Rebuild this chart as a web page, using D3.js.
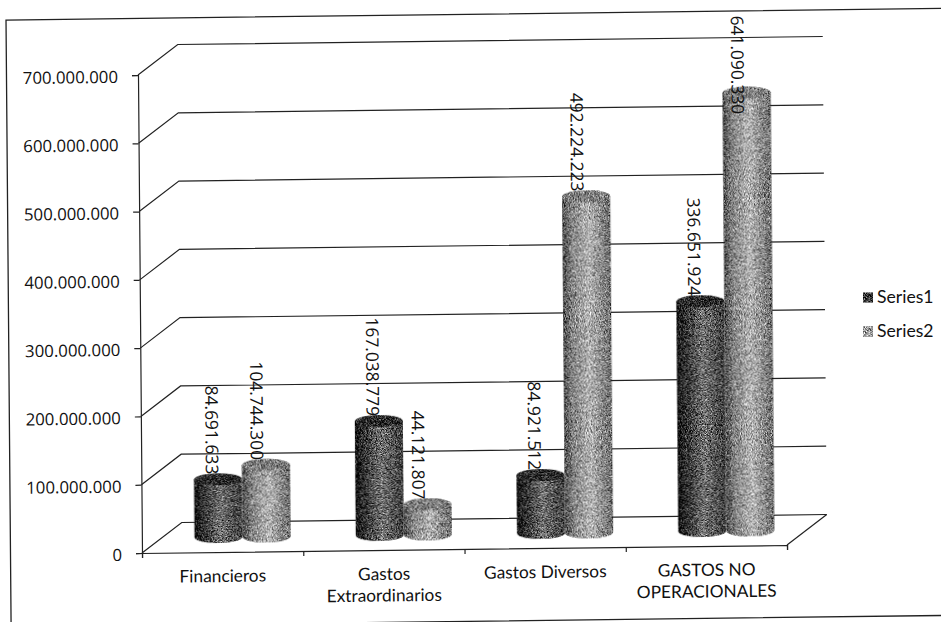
<!DOCTYPE html>
<html>
<head>
<meta charset="utf-8">
<script src="https://cdn.jsdelivr.net/npm/d3@7"></script>
<style>
  html, body { margin: 0; background: #fff; }
  svg { display: block; }
  .tick-label { font-family: "Open Sans"; font-size: 16.8px; fill: #111; }
  .data-label { font-family: "Open Sans"; font-size: 17.4px; fill: #111; }
  .cat-label { font-family: Lato; font-size: 17.3px; fill: #111; }
  .legend-label { font-family: Lato; font-size: 17.6px; fill: #111; }
</style>
</head>
<body>
<div id="graph"></div>
<script>
var categories = ["Financieros", "Gastos Extraordinarios", "Gastos Diversos", "GASTOS NO OPERACIONALES"];
var categoryLines = [["Financieros"], ["Gastos", "Extraordinarios"], ["Gastos Diversos"], ["GASTOS NO", "OPERACIONALES"]];
var series1 = [84691633, 167038779, 84921512, 336651924];
var series2 = [104744300, 44121807, 492224223, 641090330];
var seriesNames = ["Series1", "Series2"];
var yTicks = [0, 100000000, 200000000, 300000000, 400000000, 500000000, 600000000, 700000000];

var width = 941, height = 622;
var depthX = 40, depthY = 30;   // offset of the back wall
var colWidth = 48, capRy = 6;

var svg = d3.select("#graph").append("svg").attr("width", width).attr("height", height);

// gradients and the scanned stipple
var defs = svg.append("defs");
var stops = [
  [[0, "#0a0a0a"], [0.14, "#262626"], [0.55, "#727272"], [1, "#3a3a3a"]],
  [[0, "#4a4a4a"], [0.18, "#828282"], [0.55, "#b4b4b4"], [1, "#6a6a6a"]]
];
stops.forEach(function(s, i) {
  defs.append("linearGradient").attr("id", "body" + i)
    .selectAll("stop").data(s).join("stop")
    .attr("offset", function(d) { return d[0]; })
    .attr("stop-color", function(d) { return d[1]; });
});
var filter = defs.append("filter").attr("id", "stipple")
  .attr("x", 0).attr("y", 0).attr("width", 1).attr("height", 1)
  .attr("color-interpolation-filters", "sRGB");
filter.append("feTurbulence").attr("type", "fractalNoise")
  .attr("baseFrequency", 1.2).attr("numOctaves", 1).attr("seed", 4).attr("result", "noise");
filter.append("feColorMatrix").attr("in", "noise").attr("type", "matrix")
  .attr("values", "1 0 0 0 0  1 0 0 0 0  1 0 0 0 0  0 0 0 0 1").attr("result", "gray");
filter.append("feComposite").attr("in", "SourceGraphic").attr("in2", "gray")
  .attr("operator", "arithmetic")
  .attr("k1", 0).attr("k2", 1).attr("k3", 1.7).attr("k4", -0.85).attr("result", "mix");
filter.append("feComposite").attr("in", "mix").attr("in2", "SourceAlpha").attr("operator", "in");

// the page was scanned slightly crooked
var g = svg.append("g")
  .attr("transform", "translate(142,553) matrix(1,-0.0124,0.0084,1,0,0) translate(-142,-553)");

g.append("rect")
  .attr("x", 10.5).attr("y", 18.4).attr("width", 950).attr("height", 607)
  .attr("fill", "none").attr("stroke", "#222").attr("stroke-width", 1.3);

var x = d3.scaleBand().domain(categories).range([142, 787]);
var xEdges = d3.scaleLinear().domain([0, 4]).range([142, 787]);
var y = d3.scaleLinear().domain([0, 700000000]).range([553, 75]);
var dots = d3.formatLocale({ decimal: ",", thousands: ".", grouping: [3], currency: ["", ""] }).format(",d");

// gridlines over the side wall and back wall
g.append("g").selectAll("path").data(yTicks).join("path")
  .attr("fill", "none").attr("stroke", "#222").attr("stroke-width", 1.2)
  .attr("d", function(d) {
    var p = d3.path();
    p.moveTo(142, y(d));
    p.lineTo(142 + depthX, y(d) - depthY);
    p.lineTo(787 + depthX, y(d) - depthY);
    return p.toString();
  });

// floor edge on the right
g.append("line")
  .attr("x1", 787).attr("y1", y(0)).attr("x2", 787 + depthX).attr("y2", y(0) - depthY)
  .attr("stroke", "#222").attr("stroke-width", 1.2);

var yAxis = g.append("g").attr("transform", "translate(142,0)")
  .call(d3.axisLeft(y).tickValues(yTicks).tickSize(6).tickPadding(14).tickFormat(dots));
yAxis.selectAll("text").attr("class", "tick-label").attr("dy", "0.42em");
yAxis.selectAll("line, path").attr("stroke", "#222").attr("stroke-width", 1.2);

var xAxis = g.append("g").attr("transform", "translate(0,553)")
  .call(d3.axisBottom(xEdges).tickValues([0, 1, 2, 3, 4]).tickSize(5).tickFormat(""));
xAxis.selectAll("line, path").attr("stroke", "#222").attr("stroke-width", 1.2);

// category labels
g.append("g").selectAll("text").data(categories).join("text")
  .attr("class", "cat-label")
  .attr("text-anchor", "middle")
  .attr("y", 583)
  .attr("transform", function(d) { return "translate(" + (x(d) + x.bandwidth() / 2) + ",0)"; })
  .selectAll("tspan").data(function(d, i) { return categoryLines[i]; }).join("tspan")
  .attr("x", 0)
  .attr("dy", function(d, i) { return i ? 21.5 : 0; })
  .text(function(d) { return d; });

// columns, left series first so the second overlaps it
var points = [];
categories.forEach(function(c, i) {
  points.push({ cat: c, s: 0, v: series1[i] });
  points.push({ cat: c, s: 1, v: series2[i] });
});
function cx(d) { return x(d.cat) + x.bandwidth() / 2 + depthX / 2 + (d.s ? colWidth / 2 : -colWidth / 2); }
function floorY() { return y(0) - depthY / 2; }
function topY(d) { return y(d.v) - depthY / 2; }

var cols = g.append("g").selectAll("g").data(points).join("g").attr("filter", "url(#stipple)");
cols.append("path")
  .attr("fill", function(d) { return "url(#body" + d.s + ")"; })
  .attr("d", function(d) {
    var l = cx(d) - colWidth / 2, r = colWidth;
    return "M" + l + "," + topY(d) + "v" + (floorY() - topY(d)) +
      "a" + r / 2 + "," + capRy + " 0 0 0 " + r + ",0" +
      "v" + (topY(d) - floorY()) + "z";
  });
cols.append("ellipse")
  .attr("cx", cx).attr("cy", topY)
  .attr("rx", colWidth / 2).attr("ry", capRy)
  .attr("fill", function(d) { return d.s ? "#7c7c7c" : "#262626"; });

// value labels, kept inside the chart when the column is too tall
var labelTop = 23;
g.append("g").selectAll("text").data(points).join("text")
  .attr("class", "data-label")
  .attr("dy", "0.35em")
  .text(function(d) { return dots(d.v); })
  .attr("transform", function(d) {
    var end = topY(d) - capRy + 1;
    var start = Math.max(labelTop, end - this.getComputedTextLength());
    return "translate(" + (cx(d) - (d.s ? 9 : 6)) + "," + start + ") rotate(90)";
  });

// legend
var legend = svg.append("g").selectAll("g").data(seriesNames).join("g")
  .attr("transform", function(d, i) { return "translate(863," + (292.5 + i * 34) + ")"; });
legend.append("rect").attr("width", 10).attr("height", 10)
  .attr("fill", function(d, i) { return i ? "#999" : "#333"; })
  .attr("filter", "url(#stipple)");
legend.append("text").attr("class", "legend-label").attr("x", 14).attr("y", 10)
  .text(function(d) { return d; });
</script>
</body>
</html>
